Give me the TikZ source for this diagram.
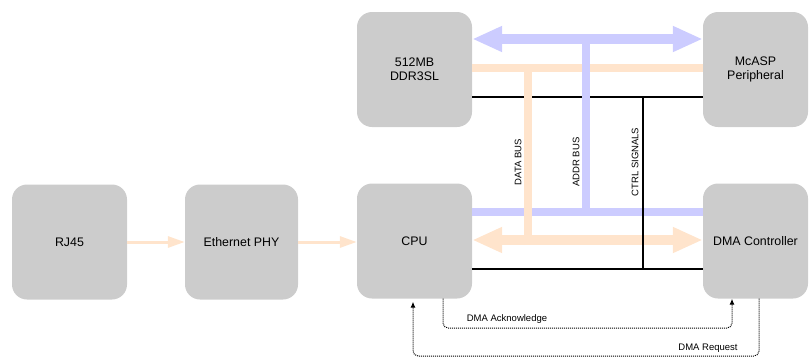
\documentclass[tikz,border=0pt]{standalone}
\usepackage{fontspec}
\setmainfont{Liberation Sans}
\usetikzlibrary{arrows.meta}
\definecolor{busblue}{RGB}{204,204,255}
\definecolor{busorange}{RGB}{255,228,204}
\definecolor{boxgray}{RGB}{204,204,204}
\begin{document}
\begin{tikzpicture}[x=1pt,y=-1pt,
	block/.style={fill=boxgray, rounded corners=15pt, minimum width=115pt, minimum height=115pt, inner sep=0pt, align=center, font=\fontsize{12.4}{14}\selectfont},
	narrow/.style={block, minimum width=105pt},
	databus/.style={busorange, line width=8pt},
	addrbus/.style={busblue, line width=8pt},
	ctrlbus/.style={black, line width=1.5pt},
	wide/.style={line width=10pt, {Triangle[length=30pt,width=24pt]}-{Triangle[length=30pt,width=24pt]}},
	feed/.style={busorange, line width=3pt, -{Triangle[length=17pt,width=11pt]}},
	handshake/.style={densely dotted, line width=1pt, rounded corners=5pt, -{Latex[length=6pt,width=5pt]}},
	buslabel/.style={rotate=90, font=\fontsize{9.5}{10}\selectfont},
	siglabel/.style={font=\fontsize{9.5}{10}\selectfont}]
	\useasboundingbox (0,0) rectangle (809,357);
	\node[block] (rjjack) at (69.5,242) {RJ45};
	\node[block, minimum width=113pt] (phy) at (241.5,242) {Ethernet PHY};
	\node[block] (cpu) at (414.5,241) {CPU};
	\node[narrow] (dma) at (755.5,241) {DMA Controller};
	\node[block] (ddr) at (414.5,69.5) {512MB\\DDR3SL};
	\node[narrow] (mcasp) at (755.5,69.5) {McASP\\Peripheral};
	\coordinate (addrtap) at (586,39);
	\coordinate (datatap) at (528,68);
	\coordinate (ctrltap) at (643,97);
	\coordinate (addrjoin) at (586,212);
	\coordinate (datajoin) at (528,240);
	\coordinate (ctrljoin) at (643,269);
	\draw[ctrlbus] (ddr.east |- ctrltap) -- (mcasp.west |- ctrltap);
	\draw[ctrlbus] (cpu.east |- ctrljoin) -- (dma.west |- ctrljoin);
	\draw[addrbus] (cpu.east |- addrjoin) -- (dma.west |- addrjoin);
	\draw[addrbus, wide] (ddr.east |- addrtap) -- (mcasp.west |- addrtap);
	\draw[databus] (ddr.east |- datatap) -- (mcasp.west |- datatap);
	\draw[databus, wide] (cpu.east |- datajoin) -- (dma.west |- datajoin);
	\draw[databus] (datatap) -- (datajoin);
	\draw[addrbus] (addrtap) -- (addrjoin);
	\draw[ctrlbus] (ctrltap) -- (ctrljoin);
	\node[buslabel] (datalabel) at (518,162) {DATA BUS};
	\node[buslabel] (addrlabel) at (576,162) {ADDR BUS};
	\node[buslabel] (ctrllabel) at (635,162) {CTRL SIGNALS};
	\draw[feed] (rjjack) -- (phy);
	\draw[feed] (phy.east) -- (phy.east -| cpu.west);
	\coordinate (ackfrom) at (443,328);
	\coordinate (ackto) at (732,328);
	\coordinate (reqfrom) at (759,356);
	\coordinate (reqto) at (413,356);
	\draw[handshake] (cpu.south -| ackfrom) -- (ackfrom) -- (ackto) -- (dma.south -| ackto);
	\draw[handshake, shorten >=3pt] (dma.south -| reqfrom) -- (reqfrom) -- (reqto) -- (cpu.south -| reqto);
	\node[siglabel] (acklabel) at (507,319) {DMA Acknowledge};
	\node[siglabel] (reqlabel) at (708,348) {DMA Request};
\end{tikzpicture}
\end{document}
